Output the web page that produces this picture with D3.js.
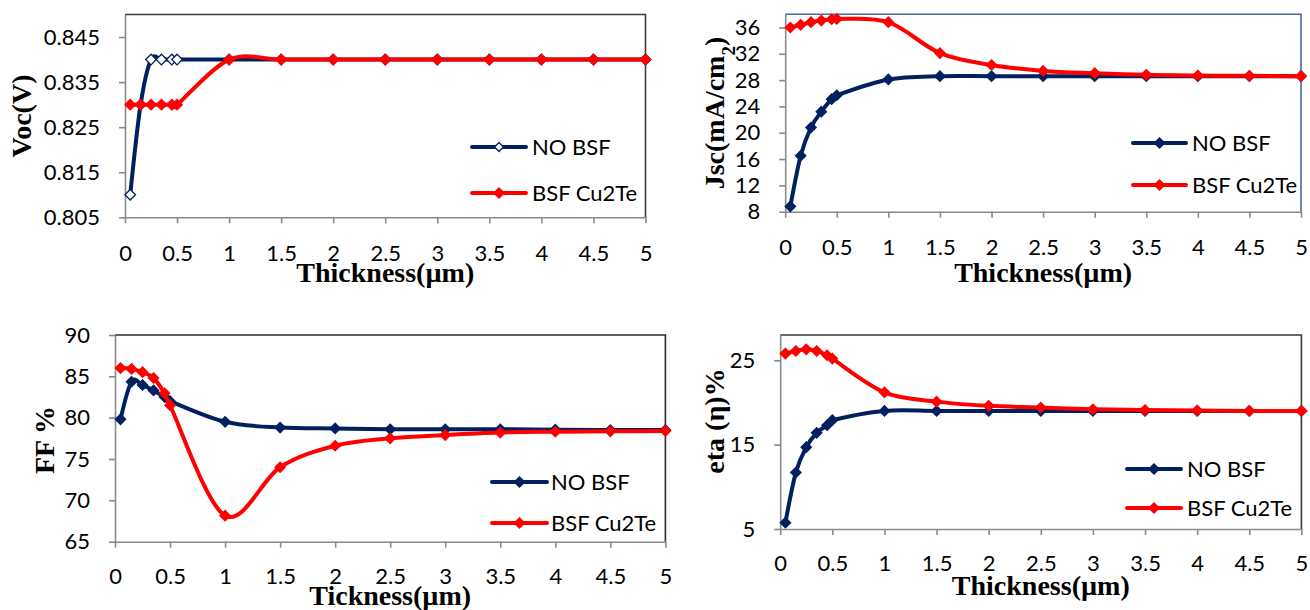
<!DOCTYPE html>
<html>
<head>
<meta charset="utf-8">
<script src="https://cdn.jsdelivr.net/npm/d3@7"></script>
<style>
  html, body { margin: 0; padding: 0; background: #fff; }
  svg { display: block; }
</style>
</head>
<body>
<svg id="chart" width="1310" height="610"></svg>
<script>
// Absorber thickness (µm) shared by all four panels
const thickness = [0.05, 0.15, 0.25, 0.35, 0.45, 0.5, 1, 1.5, 2, 2.5, 3, 3.5, 4, 4.5, 5];

const seriesNames = ["NO BSF", "BSF Cu2Te"];

// Open-circuit voltage (V)
const vocNoBsf = [0.81, 0.83, 0.84, 0.84, 0.84, 0.84, 0.84, 0.84, 0.84, 0.84, 0.84, 0.84, 0.84, 0.84, 0.84];
const vocBsf   = [0.83, 0.83, 0.83, 0.83, 0.83, 0.83, 0.84, 0.84, 0.84, 0.84, 0.84, 0.84, 0.84, 0.84, 0.84];

// Short-circuit current density (mA/cm2)
const jscNoBsf = [8.8, 16.5, 20.8, 23.2, 25.1, 25.7, 28.1, 28.6, 28.6, 28.6, 28.6, 28.6, 28.6, 28.6, 28.6];
const jscBsf   = [36.0, 36.4, 36.8, 37.05, 37.25, 37.3, 36.8, 32.1, 30.3, 29.4, 29.05, 28.8, 28.7, 28.65, 28.6];

// Fill factor (%)
const ffNoBsf = [79.8, 84.35, 83.95, 83.3, 82.5, 82.0, 79.5, 78.8, 78.7, 78.6, 78.6, 78.6, 78.55, 78.5, 78.5];
const ffBsf   = [86.0, 85.9, 85.5, 84.8, 82.95, 81.5, 68.15, 74.0, 76.6, 77.5, 77.9, 78.2, 78.3, 78.35, 78.4];

// Efficiency (%)
const etaNoBsf = [5.75, 11.7, 14.7, 16.4, 17.3, 17.9, 19.0, 19.0, 19.0, 19.0, 19.0, 19.0, 19.0, 19.0, 19.0];
const etaBsf   = [25.8, 26.1, 26.3, 26.1, 25.6, 25.2, 21.2, 20.1, 19.6, 19.4, 19.2, 19.1, 19.05, 19.0, 19.0];

// Axis ticks
const xTicks   = [0, 0.5, 1, 1.5, 2, 2.5, 3, 3.5, 4, 4.5, 5];
const vocTicks = [0.805, 0.815, 0.825, 0.835, 0.845];
const jscTicks = [8, 12, 16, 20, 24, 28, 32, 36];
const ffTicks  = [65, 70, 75, 80, 85, 90];
const etaTicks = [5, 15, 25];

const NAVY = "#002060";
const RED = "#ff0000";
const AXIS = "#8a8a8a";
const TICK_FONT = "Lato, 'Open Sans', sans-serif";
const TITLE_FONT = "'Liberation Serif', 'Times New Roman', serif";

// Square diamond marker (rotated square); size = area
const diamond = {
  draw(ctx, size) {
    const r = Math.sqrt(size / 2);
    ctx.moveTo(0, -r);
    ctx.lineTo(r, 0);
    ctx.lineTo(0, r);
    ctx.lineTo(-r, 0);
    ctx.closePath();
  }
};

const panels = [
  {
    box: { left: 125, top: 14.5, right: 645.5, bottom: 217.3 },
    yDomain: [0.805, 0.85], yTicks: vocTicks, yFormat: d3.format(".3f"),
    yTitle: [{ t: "Voc(V)" }], yTitlePos: [21, 116],
    xTitle: "Thickness(µm)", xTitleY: 272, xLabelY: 36,
    frame: "#3a3a3a", hollowNoBsf: true,
    legend: { x0: 472, x1: 526, ys: [147, 193], tx: 532 },
    values: [vocNoBsf, vocBsf]
  },
  {
    box: { left: 785.2, top: 14.3, right: 1301, bottom: 211.7 },
    yDomain: [8, 38], yTicks: jscTicks, yFormat: d3.format("d"),
    yTitle: [{ t: "Jsc(mA/cm" }, { t: "2", sub: true }, { t: ")" }], yTitlePos: [714, 113],
    xTitle: "Thickness(µm)", xTitleY: 272, xLabelY: 36,
    frame: "#4a6aa0", hollowNoBsf: false,
    legend: { x0: 1133, x1: 1186, ys: [143, 185], tx: 1192 },
    values: [jscNoBsf, jscBsf]
  },
  {
    box: { left: 115, top: 335, right: 665.4, bottom: 541.7 },
    yDomain: [65, 90], yTicks: ffTicks, yFormat: d3.format("d"),
    yTitle: [{ t: "FF %" }], yTitlePos: [44, 440],
    xTitle: "Tickness(µm)", xTitleY: 595, xLabelY: 35,
    frame: "#2a2a2a", hollowNoBsf: false,
    legend: { x0: 492, x1: 547, ys: [482, 523], tx: 551 },
    values: [ffNoBsf, ffBsf]
  },
  {
    box: { left: 780.2, top: 335, right: 1301.4, bottom: 529 },
    yDomain: [5, 28], yTicks: etaTicks, yFormat: d3.format("d"),
    yTitle: [{ t: "eta (η)%" }], yTitlePos: [714, 421],
    xTitle: "Thickness(µm)", xTitleY: 585, xLabelY: 34.5,
    frame: "#3a3a3a", hollowNoBsf: false,
    legend: { x0: 1127, x1: 1181, ys: [469, 508], tx: 1187 },
    values: [etaNoBsf, etaBsf]
  }
];

const svg = d3.select("#chart");
svg.append("rect").attr("width", 1310).attr("height", 610).attr("fill", "#fff");

panels.forEach(p => {
  const b = p.box;
  const x = d3.scaleLinear().domain([0, 5]).range([b.left, b.right]);
  const y = d3.scaleLinear().domain(p.yDomain).range([b.bottom, b.top]);
  const g = svg.append("g");

  // plot-area frame (top and right edges)
  g.append("path")
    .attr("d", `M${b.left},${b.top}H${b.right}V${b.bottom}`)
    .attr("fill", "none").attr("stroke", p.frame).attr("stroke-width", 1.6);

  // y axis
  const ya = g.append("g").attr("transform", `translate(${b.left},0)`)
    .call(d3.axisLeft(y).tickValues(p.yTicks).tickFormat(p.yFormat)
      .tickSize(6).tickSizeOuter(0).tickPadding(19));
  // x axis
  const xa = g.append("g").attr("transform", `translate(0,${b.bottom})`)
    .call(d3.axisBottom(x).tickValues(xTicks).tickFormat(d => String(d))
      .tickSize(6).tickSizeOuter(0));
  xa.selectAll(".tick text").attr("y", p.xLabelY).attr("dy", "0.35em");

  [ya, xa].forEach(a => {
    a.select(".domain").attr("stroke", AXIS).attr("stroke-width", 1.6);
    a.selectAll(".tick line").attr("stroke", AXIS).attr("stroke-width", 1.6);
    a.selectAll(".tick text")
      .attr("fill", "#000")
      .style("font-family", TICK_FONT)
      .style("font-size", "22px");
  });

  // series
  const line = d3.line()
    .x((d, i) => x(thickness[i]))
    .y(d => y(d))
    .curve(d3.curveCardinal.tension(0));

  const colors = [NAVY, RED];
  p.values.forEach((vals, si) => {
    const sg = g.append("g");
    sg.append("path")
      .datum(vals)
      .attr("d", line)
      .attr("fill", "none")
      .attr("stroke", colors[si])
      .attr("stroke-width", 4)
      .attr("stroke-linejoin", "round")
      .attr("stroke-linecap", "round");
    const hollow = si === 0 && p.hollowNoBsf;
    sg.selectAll("path.mk")
      .data(vals)
      .join("path")
      .attr("class", "mk")
      .attr("transform", (d, i) => `translate(${x(thickness[i])},${y(d)})`)
      .attr("d", d3.symbol(diamond, hollow ? 56 : 74))
      .attr("fill", hollow ? "#fff" : colors[si])
      .attr("stroke", colors[si])
      .attr("stroke-width", hollow ? 1.3 : 0);
  });

  // legend
  seriesNames.forEach((name, si) => {
    const ly = p.legend.ys[si];
    const lg = g.append("g");
    lg.append("line")
      .attr("x1", p.legend.x0).attr("x2", p.legend.x1)
      .attr("y1", ly).attr("y2", ly)
      .attr("stroke", colors[si]).attr("stroke-width", 4)
      .attr("stroke-linecap", "round");
    const hollow = si === 0 && p.hollowNoBsf;
    lg.append("path")
      .attr("transform", `translate(${(p.legend.x0 + p.legend.x1) / 2},${ly})`)
      .attr("d", d3.symbol(diamond, hollow ? 40 : 74))
      .attr("fill", hollow ? "#fff" : colors[si])
      .attr("stroke", colors[si])
      .attr("stroke-width", hollow ? 1.3 : 0);
    lg.append("text")
      .attr("x", p.legend.tx).attr("y", ly)
      .attr("dy", "0.35em")
      .style("font-family", TICK_FONT)
      .style("font-size", "22px")
      .attr("fill", "#000")
      .text(name);
  });

  // axis titles
  g.append("text")
    .attr("x", (b.left + b.right) / 2).attr("y", p.xTitleY)
    .attr("dy", "0.35em")
    .attr("text-anchor", "middle")
    .style("font-family", TITLE_FONT)
    .style("font-weight", "bold")
    .style("font-size", "28px")
    .text(p.xTitle);

  const yt = g.append("text")
    .attr("transform", `translate(${p.yTitlePos[0]},${p.yTitlePos[1]}) rotate(-90)`)
    .attr("dy", "0.35em")
    .attr("text-anchor", "middle")
    .style("font-family", TITLE_FONT)
    .style("font-weight", "bold")
    .style("font-size", "28px");
  p.yTitle.forEach(part => {
    const ts = yt.append("tspan").text(part.t);
    if (part.sub) ts.attr("baseline-shift", "sub").style("font-size", "19px");
  });
});
</script>
</body>
</html>
